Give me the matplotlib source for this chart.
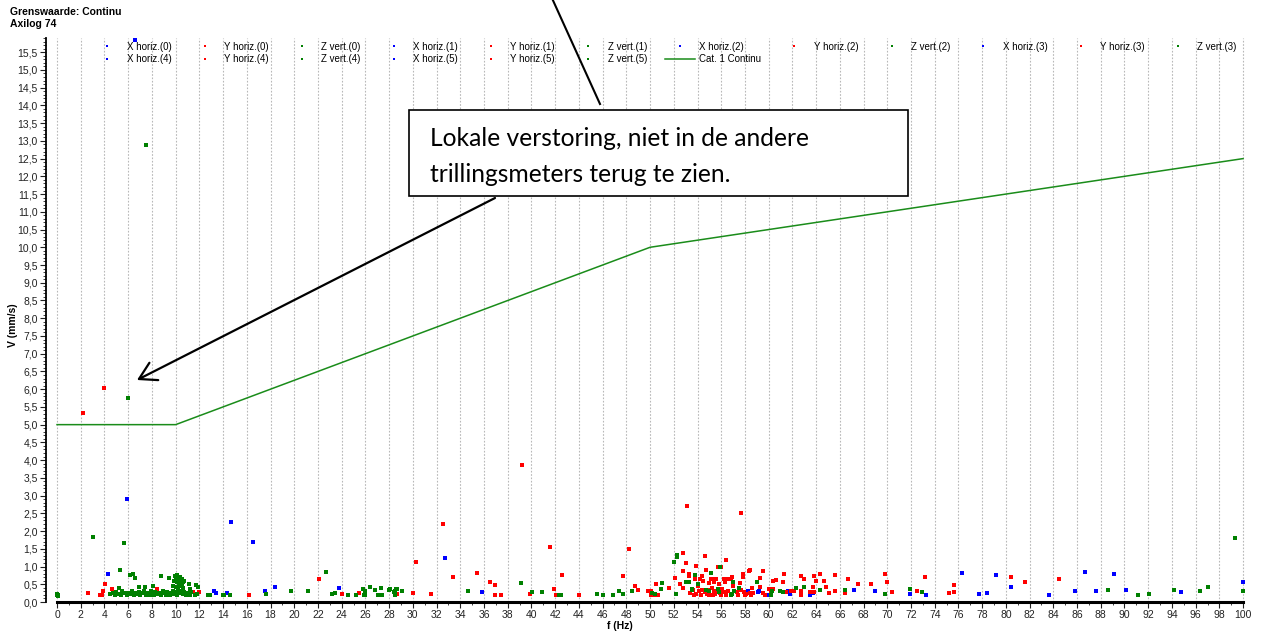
import matplotlib
matplotlib.use("Agg")
import matplotlib.pyplot as plt
import numpy as np
from matplotlib.ticker import FuncFormatter, MultipleLocator
from matplotlib.patches import Rectangle, FancyArrowPatch
from matplotlib.lines import Line2D

plt.rcParams['font.family'] = ['Liberation Sans', 'DejaVu Sans']

# ---------------- data ----------------
title_lines = ["Grenswaarde: Continu", "Axilog 74"]

x_horiz_f = [6.6, 5.9, 14.7, 16.5, 4.3, 32.7, 9.7, 13.2, 13.4, 14.3, 17.5, 18.4, 23.8, 28.5, 35.8,
             58.25, 59.1, 59.2, 60.0, 61.6, 61.8, 63.5, 63.7, 67.2, 69.0, 71.9, 73.3, 76.3, 77.7,
             78.4, 79.2, 80.4, 83.6, 85.8, 86.65, 87.6, 89.1, 90.1, 94.8, 100.0]
x_horiz_v = [15.84, 2.89, 2.25, 1.69, 0.78, 1.23, 0.22, 0.30, 0.25, 0.25, 0.30, 0.42, 0.39, 0.32, 0.27,
             0.30, 0.27, 0.32, 0.20, 0.30, 0.22, 0.20, 0.26, 0.33, 0.30, 0.22, 0.20, 0.81, 0.22,
             0.25, 0.76, 0.42, 0.20, 0.30, 0.85, 0.30, 0.78, 0.35, 0.27, 0.56]

y_horiz_f = [2.2, 4.0, 39.2, 53.15, 57.65, 32.5, 41.6, 48.2, 30.3,
             2.6, 3.6, 3.8, 3.85, 4.05, 4.67, 8.46, 11.5, 12.0, 16.2, 22.1,
             24.0, 25.5, 28.7, 30.0, 31.5, 33.4, 35.4, 36.5, 36.95, 36.95, 37.45, 39.9, 41.9, 42.1,
             42.2, 42.55, 44.0, 47.7, 48.7, 48.95,
             52.8, 53.0, 54.6, 56.4, 55.7, 56.0, 53.85, 52.1, 52.8, 53.3, 53.3, 53.8, 54.2, 54.4,
             54.5, 54.7, 55.1, 55.35, 55.6, 55.4, 56.2, 56.5, 56.8, 56.9, 57.8, 57.85, 58.3, 58.45,
             59.55, 59.3, 61.3, 60.6, 60.4, 61.2, 62.7, 63.0, 63.8, 64.3, 64.0, 64.7, 65.6, 66.7,
             67.5, 68.6, 69.8, 70.0, 70.4, 73.2, 72.5, 75.6, 75.6, 75.2, 51.6, 50.5, 49.8, 50.0,
             50.1, 50.1, 50.4, 50.7, 52.8, 53.6, 54.4, 54.6, 54.95, 54.95, 55.2, 55.4, 55.7, 56.1,
             56.2, 56.4, 57.3, 57.7, 57.6, 57.9, 58.0, 58.1, 58.4, 58.5, 58.7, 58.6, 59.3, 59.5,
             59.7, 60.0, 60.2, 60.4, 61.5, 61.9, 62.1, 62.7, 62.7, 63.5, 63.7, 63.8, 64.8, 65.1,
             65.6, 66.4, 53.4, 53.9, 54.1, 54.8, 55.0, 55.5, 55.9, 56.6, 57.0, 52.5, 54.0, 55.8,
             56.3, 53.7, 54.3, 55.3, 56.0, 57.4, 80.4, 81.6, 84.5]
y_horiz_v = [5.33, 6.03, 3.86, 2.72, 2.52, 2.20, 1.55, 1.50, 1.14,
             0.25, 0.20, 0.20, 0.30, 0.50, 0.38, 0.37, 0.29, 0.29, 0.20, 0.66,
             0.22, 0.24, 0.22, 0.25, 0.22, 0.71, 0.83, 0.56, 0.49, 0.20, 0.20, 0.22, 0.37, 0.20,
             0.20, 0.76, 0.20, 0.73, 0.44, 0.33,
             1.39, 1.09, 1.30, 1.18, 0.98, 0.98, 1.02, 0.69, 0.88, 0.80, 0.73, 0.64, 0.64, 0.73,
             0.60, 0.90, 0.66, 0.66, 0.66, 0.55, 0.66, 0.64, 0.66, 0.70, 0.70, 0.80, 0.88, 0.90,
             0.88, 0.67, 0.78, 0.63, 0.58, 0.55, 0.73, 0.66, 0.73, 0.78, 0.60, 0.60, 0.76, 0.66,
             0.51, 0.52, 0.78, 0.56, 0.27, 0.71, 0.30, 0.47, 0.27, 0.25, 0.40, 0.50, 0.30, 0.30,
             0.31, 0.20, 0.20, 0.20, 0.40, 0.33, 0.33, 0.28, 0.53, 0.20, 0.39, 0.30, 0.30, 0.36,
             0.28, 0.20, 0.27, 0.33, 0.53, 0.27, 0.20, 0.22, 0.24, 0.20, 0.24, 0.40, 0.41, 0.24,
             0.20, 0.36, 0.30, 0.37, 0.27, 0.30, 0.30, 0.30, 0.20, 0.27, 0.42, 0.27, 0.42, 0.24,
             0.30, 0.24, 0.25, 0.22, 0.30, 0.22, 0.35, 0.22, 0.24, 0.30, 0.45, 0.50, 0.45, 0.50,
             0.55, 0.20, 0.20, 0.20, 0.20, 0.20, 0.70, 0.56, 0.64]

z_vert_f = [7.5, 6.0, 3.0, 5.67, 99.3, 52.05, 52.3, 52.3, 55.9,
            0.0, 0.05, 0.0, 0.05,
            5.3, 6.15, 6.44, 6.6, 6.9, 7.4, 8.1, 8.77, 9.4, 5.25, 11.1, 11.2, 11.75, 11.9,
            9.9, 9.95, 10.05, 10.1, 10.15, 10.2, 10.25, 10.3, 10.35, 10.4, 10.45, 10.5, 10.55, 10.6,
            10.0, 10.2, 10.4, 10.6, 9.8, 10.7,
            4.5, 4.7, 4.9, 5.0, 5.2, 5.4, 5.5, 5.7, 5.9, 6.1, 6.2, 6.3, 6.5, 6.6, 6.8, 6.9, 7.0,
            7.2, 7.3, 7.5, 7.6, 7.8, 7.9, 8.0, 8.2, 8.3, 8.5, 8.6, 8.8, 8.9, 9.0, 9.2, 9.3, 9.5,
            9.6, 9.8, 9.9, 10.0, 10.1, 10.3, 10.4, 10.6, 10.7, 10.9, 11.0, 11.2, 11.3, 11.6, 11.8,
            12.7, 12.9, 14.0, 14.1, 14.6, 17.6, 19.7, 21.2, 22.7, 23.2, 23.4, 24.5, 25.2, 25.8,
            26.0, 25.9, 26.0, 26.4, 26.8, 27.1, 27.4, 27.3, 28.0, 28.05, 28.4, 28.5, 28.6, 28.7,
            28.5, 29.1, 34.65, 39.1, 40.05, 40.9, 42.3, 42.45, 45.5, 46.0, 46.9, 47.4, 47.7, 48.45,
            51.0, 50.9, 50.4, 50.2, 52.2, 53.0, 53.3, 53.5, 53.5, 54.0, 53.8, 55.15, 54.7, 54.95,
            55.7, 55.8, 56.8, 56.9, 57.1, 57.5, 57.0, 59.0, 60.2, 60.3, 60.97, 61.2, 62.3, 63.0,
            64.3, 66.4, 69.8, 71.9, 72.9, 88.6, 91.1, 92.1, 94.2, 96.35, 97.0, 100.0]
z_vert_v = [12.88, 5.75, 1.84, 1.65, 1.81, 1.12, 1.33, 1.28, 0.98,
            0.20, 0.20, 0.22, 0.18,
            0.90, 0.76, 0.79, 0.67, 0.42, 0.42, 0.46, 0.73, 0.67, 0.39, 0.50, 0.38, 0.47, 0.42,
            0.60, 0.72, 0.62, 0.55, 0.76, 0.68, 0.50, 0.58, 0.70, 0.45, 0.62, 0.52, 0.66, 0.40,
            0.42, 0.35, 0.32, 0.55, 0.45, 0.60,
            0.22, 0.25, 0.20, 0.28, 0.22, 0.20, 0.30, 0.24, 0.20, 0.26, 0.22, 0.30, 0.20, 0.25,
            0.22, 0.28, 0.20, 0.24, 0.30, 0.21, 0.26, 0.20, 0.30, 0.23, 0.20, 0.28, 0.22, 0.25,
            0.20, 0.30, 0.24, 0.21, 0.27, 0.20, 0.25, 0.30, 0.22, 0.28, 0.20, 0.25, 0.30, 0.22,
            0.27, 0.20, 0.24, 0.21, 0.28, 0.20, 0.23,
            0.21, 0.21, 0.21, 0.20, 0.20, 0.22, 0.30, 0.30, 0.85, 0.22, 0.24, 0.20, 0.21, 0.36,
            0.31, 0.20, 0.20, 0.42, 0.33, 0.20, 0.20, 0.39, 0.35, 0.36, 0.27, 0.31, 0.37, 0.37,
            0.20, 0.30, 0.30, 0.54, 0.27, 0.27, 0.20, 0.20, 0.22, 0.20, 0.20, 0.30, 0.22, 0.30,
            0.53, 0.37, 0.23, 0.25, 0.22, 0.55, 0.55, 0.37, 0.33, 0.52, 0.77, 0.83, 0.33, 0.30,
            0.38, 0.28, 0.20, 0.22, 0.30, 0.40, 0.56, 0.55, 0.20, 0.30, 0.30, 0.29, 0.40, 0.42,
            0.34, 0.33, 0.22, 0.36, 0.27, 0.35, 0.20, 0.22, 0.33, 0.30, 0.42, 0.30]

limit_f = [0, 10, 50, 100]
limit_v = [5.0, 5.0, 10.0, 12.5]

series_labels_row1 = ["X horiz.(0)", "Y horiz.(0)", "Z vert.(0)", "X horiz.(1)", "Y horiz.(1)", "Z vert.(1)",
                      "X horiz.(2)", "Y horiz.(2)", "Z vert.(2)", "X horiz.(3)", "Y horiz.(3)", "Z vert.(3)"]
series_labels_row2 = ["X horiz.(4)", "Y horiz.(4)", "Z vert.(4)", "X horiz.(5)", "Y horiz.(5)", "Z vert.(5)"]
limit_label = "Cat. 1 Continu"

annotation_lines = ["Lokale verstoring, niet in de andere", "trillingsmeters terug te zien."]

colors = {"X": "#0000ff", "Y": "#ff0000", "Z": "#008000"}

# ---------------- figure ----------------
W, H = 1270, 636
fig = plt.figure(figsize=(W / 100, H / 100), dpi=100)
ax_left, ax_right, ax_top, ax_bot = 46, 1252, 38, 602
ax = fig.add_axes([ax_left / W, 1 - ax_bot / H, (ax_right - ax_left) / W, (ax_bot - ax_top) / H])

data_map = {"X horiz.(0)": (x_horiz_f, x_horiz_v),
            "Y horiz.(0)": (y_horiz_f, y_horiz_v),
            "Z vert.(0)": (z_vert_f, z_vert_v)}

handles = {}
for lab in series_labels_row1 + series_labels_row2:
    c = colors[lab[0]]
    f, v = data_map.get(lab, ([], []))
    h, = ax.plot(f, v, linestyle='none', marker='s', ms=2.2, mew=0, color=c, label=lab, zorder=3)
    handles[lab] = h
hl, = ax.plot(limit_f, limit_v, color='#1a8c1a', lw=1.1, label=limit_label, zorder=2)
handles[limit_label] = hl

ax.set_xlim(-0.93, 100.75)
ax.set_ylim(0, 15.9)

ax.set_xticks(np.arange(0, 101, 2))
ax.xaxis.set_minor_locator(MultipleLocator(1))
ax.set_yticks(np.arange(0, 15.51, 0.5))
ax.yaxis.set_minor_locator(MultipleLocator(0.1))
ax.yaxis.set_major_formatter(FuncFormatter(lambda v, p: f"{v:.1f}".replace(".", ",")))
ax.xaxis.set_major_formatter(FuncFormatter(lambda v, p: f"{int(round(v))}"))

ax.tick_params(axis='both', which='major', labelsize=7.5, length=4, width=0.8, colors='#222222', pad=2)
ax.tick_params(axis='both', which='minor', length=2, width=0.6, colors='#222222')

for s in ['top', 'right']:
    ax.spines[s].set_visible(False)
ax.spines['bottom'].set_linewidth(2.2)
ax.spines['bottom'].set_bounds(0, 100)
ax.spines['left'].set_linewidth(1.3)

ax.grid(False, which='minor')
ax.xaxis.grid(True, which='major', linestyle=(0, (1.5, 1.5)), color='#b8b8b8', lw=0.8)
ax.yaxis.grid(False)
ax.set_axisbelow(True)

ax.set_xlabel("f (Hz)", fontsize=7.5, fontweight='bold')
ax.set_ylabel("V (mm/s)", fontsize=7.5, fontweight='bold')
ax.xaxis.set_label_coords((620 - ax_left) / (ax_right - ax_left), (ax_bot - 621) / (ax_bot - ax_top))
ax.yaxis.set_label_coords((18 - ax_left) / (ax_right - ax_left), (ax_bot - 325) / (ax_bot - ax_top))

# legend (row-major arrangement across 12 columns)
order = []
for i in range(12):
    order.append(series_labels_row1[i])
    if i < 6:
        order.append(series_labels_row2[i])
    elif i == 6:
        order.append(limit_label)
leg = fig.legend([handles[k] for k in order], order, loc='upper left',
                 bbox_to_anchor=(88 / W, 1 - 37 / H), ncol=12, frameon=False,
                 fontsize=7, handlelength=3.0, handletextpad=0.5, columnspacing=1.9,
                 labelspacing=0.25, borderpad=0, markerscale=0.9)

# titles
fig.text(10 / W, 1 - 12 / H, title_lines[0], fontsize=7.5, fontweight='bold', va='center', ha='left')
fig.text(10 / W, 1 - 24 / H, title_lines[1], fontsize=7.5, fontweight='bold', va='center', ha='left')

# annotation box
rect = Rectangle((409 / W, 1 - 196 / H), (908 - 409) / W, (196 - 110) / H, transform=fig.transFigure,
                 facecolor='white', edgecolor='black', lw=1.2, zorder=10)
fig.patches.append(rect)
fig.text(430 / W, 1 - 139 / H, annotation_lines[0], family=['Lato', 'DejaVu Sans'],
         fontsize=17.7, va='center', ha='left', zorder=11)
fig.text(430 / W, 1 - 174 / H, annotation_lines[1], family=['Lato', 'DejaVu Sans'],
         fontsize=17.7, va='center', ha='left', zorder=11)

# pointer lines
fig.lines.append(Line2D([600 / W, 551 / W], [1 - 104 / H, 1 + 4 / H], transform=fig.transFigure,
                        color='black', lw=1.5, zorder=12))
fig.patches.append(FancyArrowPatch(
    (495 / W, 1 - 198 / H), (137 / W, 1 - 380 / H), transform=fig.transFigure,
    arrowstyle='->,head_length=1.2,head_width=0.7', mutation_scale=10, color='black', lw=1.6,
    shrinkA=0, shrinkB=0, zorder=12))

fig.savefig("out.png", dpi=100)
